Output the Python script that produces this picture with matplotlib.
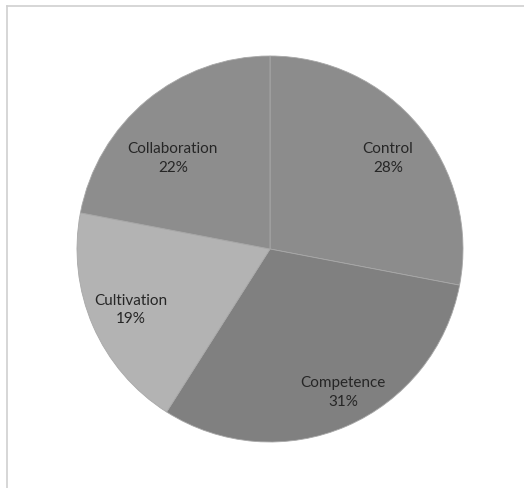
import matplotlib
matplotlib.use("Agg")
import matplotlib.pyplot as plt
from matplotlib.lines import Line2D

categories = ["Control", "Competence", "Cultivation", "Collaboration"]
values = [28, 31, 19, 22]
colors = ["#8c8c8c", "#808080", "#b3b3b3", "#8d8d8d"]
# label centres in pie-radius units (layout only)
label_pos = [(0.611, 0.472), (0.378, -0.736), (-0.720, -0.311), (-0.503, 0.472)]

W, H = 524, 489
fig = plt.figure(figsize=(W / 100, H / 100), dpi=100)
fig.patch.set_facecolor("white")

cx, cy, r = 270, 250, 193
ax = fig.add_axes([(cx - r) / W, (H - cy - r) / H, 2 * r / W, 2 * r / H])
wedges, _ = ax.pie(values, colors=colors, startangle=90, counterclock=False,
                   radius=1.0, wedgeprops=dict(edgecolor="#a8a8a8", linewidth=0.6))
ax.set_xlim(-1, 1)
ax.set_ylim(-1, 1)
ax.set_aspect("equal")
ax.axis("off")

for (x, y), name, v in zip(label_pos, categories, values):
    ax.text(x, y, f"{name}\n{v}%", ha="center", va="center",
            fontsize=11, family=["Lato", "DejaVu Sans"], color="#262626", linespacing=1.45)

fig.add_artist(Line2D([6.5 / W, 1], [1 - 6.5 / H, 1 - 6.5 / H], transform=fig.transFigure,
                      color="#d0d0d0", linewidth=1.2))
fig.add_artist(Line2D([6.5 / W, 6.5 / W], [0, 1 - 6.5 / H], transform=fig.transFigure,
                      color="#d0d0d0", linewidth=1.2))

fig.savefig("out.png", dpi=100, facecolor="white")
